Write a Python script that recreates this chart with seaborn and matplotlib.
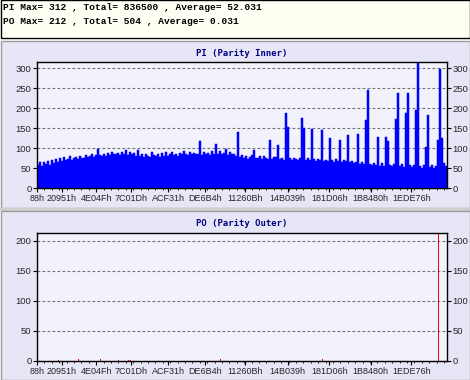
import numpy as np
import matplotlib
matplotlib.use("Agg")
import matplotlib.pyplot as plt
from matplotlib.patches import Rectangle
from matplotlib.ticker import MultipleLocator, FixedLocator
import seaborn as sns

sns.set_theme(style="white")
plt.rcParams["font.family"] = ["Liberation Sans", "DejaVu Sans"]

# scan samples: one every sample_step sectors, starting at 88h
first_sector = 0x88
sample_step = 10812

pi_values = [
    58, 64, 55, 66, 60, 68, 57, 70, 63, 72,
    66, 74, 68, 77, 70, 72, 79, 69, 75, 78,
    73, 81, 76, 74, 83, 77, 79, 86, 78, 82,
    97, 83, 80, 86, 79, 88, 82, 90, 84, 85,
    87, 82, 91, 85, 94, 83, 89, 84, 88, 81,
    95, 79, 84, 77, 85, 80, 78, 90, 82, 80,
    84, 78, 87, 81, 89, 80, 85, 91, 82, 86,
    81, 88, 84, 92, 85, 83, 90, 86, 88, 84,
    86, 118, 83, 90, 85, 88, 83, 93, 86, 110,
    84, 92, 85, 88, 97, 83, 90, 85, 84, 81,
    141, 77, 82, 75, 80, 73, 78, 82, 95, 76,
    74, 79, 72, 80, 76, 73, 120, 72, 77, 78,
    107, 73, 76, 71, 187, 153, 74, 70, 75, 72,
    71, 75, 174, 149, 69, 74, 71, 147, 73, 68,
    72, 69, 145, 67, 71, 68, 126, 70, 66, 72,
    68, 120, 65, 70, 67, 132, 64, 68, 62, 66,
    135, 61, 65, 59, 170, 245, 60, 57, 63, 58,
    128, 56, 62, 55, 128, 118, 58, 54, 60, 172,
    238, 55, 59, 53, 187, 238, 57, 52, 58, 195,
    312, 54, 50, 57, 103, 182, 53, 58, 51, 56,
    120, 298, 125, 62, 55,
]

# PO is zero almost everywhere: only the non-zero samples
po_sample = [10, 20, 31, 40, 45, 46, 91, 142, 200]
po_count = [1, 4, 4, 2, 2, 2, 4, 4, 212]

x_labels = ["88h", "20951h", "4E04Fh", "7C01Dh", "ACF31h", "DE6B4h",
            "11260Bh", "14B039h", "181D06h", "1B8480h", "1EDE76h"]

header_lines = ["PI Max= 312 , Total= 836500 , Average= 52.031",
                "PO Max= 212 , Total= 504 , Average= 0.031"]

n = len(pi_values)
sectors = first_sector + sample_step * (np.arange(n) + 0.5)
po_values = np.zeros(n)
po_values[po_sample] = po_count
x_ticks = [int(s[:-1], 16) for s in x_labels]
x_end = first_sector + sample_step * n

W, H = 470, 380
fig = plt.figure(figsize=(4.7, 3.8), dpi=100)
fig.patch.set_facecolor("white")

def frect(x0, y0, x1, y1, **kw):
    fig.patches.append(Rectangle((x0 / W, 1 - y1 / H), (x1 - x0) / W, (y1 - y0) / H,
                                 transform=fig.transFigure, figure=fig, zorder=-5, **kw))

frect(0.5, 0.5, 469.5, 38, facecolor="#FFFFF4", edgecolor="black", linewidth=1)
frect(0.5, 41, 469.5, 208, facecolor="#E6E6F6", edgecolor="#9A9A9A", linewidth=1)
frect(0, 208, 470, 211, facecolor="#D0D0D0", edgecolor="none")
frect(0.5, 211, 469.5, 380, facecolor="#E6E6F6", edgecolor="#9A9A9A", linewidth=1)

for i, line in enumerate(header_lines):
    fig.text(3 / W, 1 - (8 + 13 * i) / H, line, ha="left", va="center",
             fontsize=6.8, family="Liberation Mono", fontweight="bold", color="black")

ax1 = fig.add_axes([37 / W, 1 - 188 / H, 410 / W, 126 / H])
ax2 = fig.add_axes([37 / W, 1 - 361 / H, 410 / W, 128 / H])

sns.barplot(x=sectors, y=pi_values, native_scale=True, color="#0000FF",
            saturation=1, width=1.0, errorbar=None, linewidth=0.35,
            edgecolor="#0000FF", ax=ax1)
sns.barplot(x=sectors, y=po_values, native_scale=True, color="#FF0000",
            saturation=1, width=0.5, errorbar=None, linewidth=0, ax=ax2)

def style(ax, ymax, title, title_y):
    ax.set_facecolor("#F2F2FC")
    ax.set_xlim(first_sector, x_end)
    ax.set_ylim(0, ymax)
    ax.set_axisbelow(True)
    ax.yaxis.set_major_locator(MultipleLocator(50))
    ax.grid(axis="y", color="#707070", linestyle=(0, (2.5, 2)), linewidth=0.8)
    ax.grid(axis="x", visible=False)
    ax.xaxis.set_major_locator(FixedLocator(x_ticks))
    ax.set_xticklabels(x_labels)
    ax.xaxis.set_minor_locator(MultipleLocator(40000))
    ax.tick_params(axis="x", which="major", bottom=True, length=3, width=0.8,
                   direction="out", labelsize=6.5, pad=1.5, color="black")
    ax.tick_params(axis="x", which="minor", bottom=True, length=1.5, width=0.6,
                   direction="out", color="black")
    ax.tick_params(axis="y", left=True, right=True, labelleft=True, labelright=True,
                   length=3, width=0.8, direction="out", labelsize=6.8, pad=1,
                   color="black")
    ax.set_xlabel("")
    ax.set_ylabel("")
    for sp in ax.spines.values():
        sp.set_visible(True)
        sp.set_color("black")
        sp.set_linewidth(1)
    fig.text(242 / W, 1 - title_y / H, title, ha="center", va="center",
             fontsize=6.4, fontweight="bold", family="DejaVu Sans Mono", color="#000080")

style(ax1, 315, "PI (Parity Inner)", 53)
style(ax2, 213.3, "PO (Parity Outer)", 224)

fig.savefig("out.png", dpi=100, facecolor=fig.get_facecolor())
